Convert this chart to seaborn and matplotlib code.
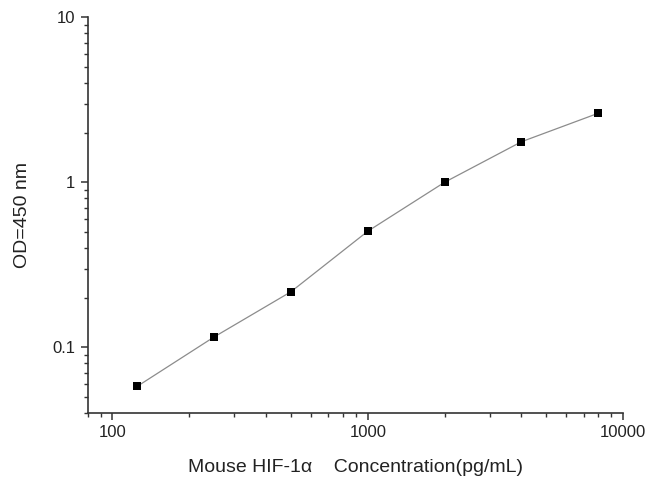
import numpy as np
import pandas as pd
import seaborn as sns
import matplotlib.pyplot as plt
from matplotlib.ticker import LogLocator, FixedLocator, FixedFormatter, NullFormatter

concentration = [125, 250, 500, 1000, 2000, 4000, 8000]
od450 = [0.058, 0.1155, 0.217, 0.505, 1.0, 1.76, 2.62]
x_ticks = [100, 1000, 10000]
x_tick_labels = ['100', '1000', '10000']
y_ticks = [0.1, 1, 10]
y_tick_labels = ['0.1', '1', '10']

sns.set_theme(style='ticks')
plt.rcParams['font.family'] = ['Liberation Sans', 'DejaVu Sans']

df = pd.DataFrame({'conc': concentration, 'od': od450})

fig = plt.figure(figsize=(6.45, 4.78), dpi=100)
ax = fig.add_axes([0.136, 0.136, 0.830, 0.828])

sns.lineplot(data=df, x='conc', y='od', color='#8c8c8c', linewidth=0.9, ax=ax)
sns.scatterplot(data=df, x='conc', y='od', marker='s', color='black', s=36,
                edgecolor='black', linewidth=0, zorder=3, ax=ax)

ax.set_xscale('log')
ax.set_yscale('log')
ax.set_xlim(80, 10000)
ax.set_ylim(0.04, 10)

ax.xaxis.set_major_locator(FixedLocator(x_ticks))
ax.xaxis.set_major_formatter(FixedFormatter(x_tick_labels))
ax.yaxis.set_major_locator(FixedLocator(y_ticks))
ax.yaxis.set_major_formatter(FixedFormatter(y_tick_labels))
ax.xaxis.set_minor_locator(LogLocator(base=10, subs=np.arange(2, 10)))
ax.yaxis.set_minor_locator(LogLocator(base=10, subs=np.arange(2, 10)))
ax.xaxis.set_minor_formatter(NullFormatter())
ax.yaxis.set_minor_formatter(NullFormatter())

for side in ['top', 'right']:
    ax.spines[side].set_visible(False)
for side in ['left', 'bottom']:
    ax.spines[side].set_color('#333333')
    ax.spines[side].set_linewidth(1.2)

ax.tick_params(which='major', direction='out', length=5, width=1.1, color='#333333',
               labelsize=12, labelcolor='#222222', pad=4)
ax.tick_params(which='minor', direction='out', length=3, width=1.0, color='#333333')

ax.set_xlabel('Mouse HIF-1\u03b1    Concentration(pg/mL)', fontsize=14, color='#222222', labelpad=13)
ax.set_ylabel('OD=450 nm', fontsize=14, color='#222222', labelpad=15)

fig.savefig('out.png', dpi=100)
